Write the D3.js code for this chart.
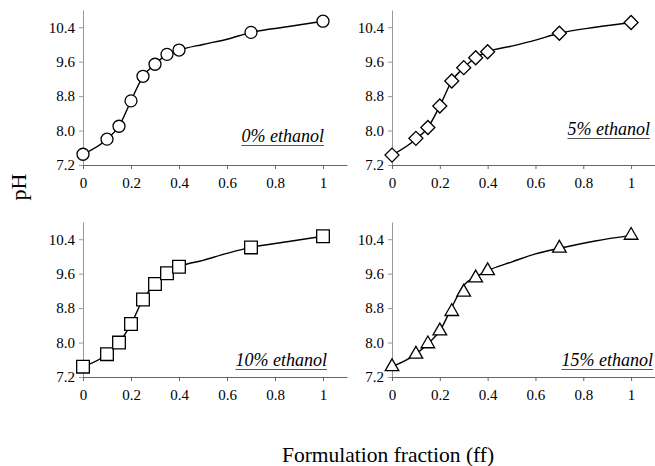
<!DOCTYPE html>
<html>
<head>
<meta charset="utf-8">
<script src="https://cdn.jsdelivr.net/npm/d3@7"></script>
<style>
  body { margin: 0; background: #fff; }
  svg { display: block; font-family: 'Liberation Serif', 'Times New Roman', serif; }
  svg text, .tick text { font-family: 'Liberation Serif', 'Times New Roman', serif; }
  .tick text { font-size: 15px; fill: #000; }
</style>
</head>
<body>
<svg width="655" height="466"></svg>
<script>
// measured points (formulation fraction vs pH)
const FF = [0, 0.1, 0.15, 0.2, 0.25, 0.3, 0.35, 0.4, 0.7, 1]
const PH_0 = [7.45, 7.80, 8.10, 8.69, 9.26, 9.54, 9.77, 9.87, 10.28, 10.54]
const PH_5 = [7.43, 7.82, 8.07, 8.57, 9.15, 9.46, 9.69, 9.83, 10.26, 10.51]
const PH_10 = [7.44, 7.73, 8.00, 8.43, 9.00, 9.36, 9.61, 9.76, 10.21, 10.47]
const PH_15 = [7.44, 7.73, 7.97, 8.27, 8.72, 9.17, 9.50, 9.67, 10.19, 10.49]

// fitted curves
const FIT_FF = [0, 0.1, 0.15, 0.2, 0.25, 0.3, 0.35, 0.4, 0.5, 0.6, 0.7, 0.85, 1]
const FIT_0 = [7.45, 7.80, 8.10, 8.69, 9.26, 9.54, 9.77, 9.87, 10.00, 10.12, 10.28, 10.41, 10.54]
const FIT_5 = [7.43, 7.80, 8.07, 8.57, 9.15, 9.46, 9.69, 9.83, 9.96, 10.10, 10.26, 10.40, 10.51]
const FIT_10 = [7.44, 7.73, 8.00, 8.43, 9.00, 9.36, 9.61, 9.76, 9.91, 10.07, 10.21, 10.34, 10.47]
const FIT_15 = [7.44, 7.73, 7.97, 8.27, 8.82, 9.33, 9.53, 9.67, 9.87, 10.06, 10.19, 10.36, 10.49]

const LABELS = ['0% ethanol', '5% ethanol', '10% ethanol', '15% ethanol']
const Y_TICKS = [7.2, 8.0, 8.8, 9.6, 10.4]
const X_TICKS = [0, 0.2, 0.4, 0.6, 0.8, 1]
const X_DOMAIN = [0, 1.1]
const Y_DOMAIN = [7.2, 10.8]

const panels = [
  { pts: PH_0, fit: FIT_0, shape: 'circle', xr: [83, 347], yr: [165, 10], labelX: 324, labelY: 142 },
  { pts: PH_5, fit: FIT_5, shape: 'diamond', xr: [392, 655], yr: [165, 10], labelX: 650, labelY: 135 },
  { pts: PH_10, fit: FIT_10, shape: 'square', xr: [83, 347], yr: [377, 222], labelX: 327, labelY: 366 },
  { pts: PH_15, fit: FIT_15, shape: 'triangle', xr: [392, 655], yr: [377, 222], labelX: 653, labelY: 366 }
]

const svg = d3.select('svg')

const symbolFor = shape => {
  if (shape === 'circle') return d3.symbol(d3.symbolCircle, 113)()
  if (shape === 'diamond') return d3.symbol(d3.symbolSquare, 98)()
  if (shape === 'square') return d3.symbol(d3.symbolSquare, 160)()
  return d3.symbol(d3.symbolTriangle, 80)()
}

panels.forEach((p, i) => {
  const x = d3.scaleLinear().domain(X_DOMAIN).range(p.xr)
  const y = d3.scaleLinear().domain(Y_DOMAIN).range(p.yr)
  const g = svg.append('g')

  const yAxis = g.append('g')
    .attr('transform', `translate(${p.xr[0]},0)`)
    .call(d3.axisLeft(y).tickValues(Y_TICKS).tickSize(4).tickSizeOuter(0).tickPadding(4)
      .tickFormat(d3.format('.1f')))
  yAxis.selectAll('path, line').attr('stroke', '#999')

  const xAxis = g.append('g')
    .attr('transform', `translate(0,${p.yr[0]})`)
    .call(d3.axisBottom(x).tickValues(X_TICKS).tickSize(4).tickSizeOuter(0).tickPadding(8)
      .tickFormat(d3.format('')))
  xAxis.selectAll('path, line').attr('stroke', '#666')

  const line = d3.line()
    .x(d => x(d[0]))
    .y(d => y(d[1]))
    .curve(d3.curveMonotoneX)

  g.append('path')
    .datum(FIT_FF.map((f, k) => [f, p.fit[k]]))
    .attr('d', line)
    .attr('fill', 'none')
    .attr('stroke', '#000')
    .attr('stroke-width', 1.4)

  g.selectAll('.mark')
    .data(FF.map((f, k) => [f, p.pts[k]]))
    .enter().append('path')
    .attr('class', 'mark')
    .attr('d', symbolFor(p.shape))
    .attr('transform', d => `translate(${x(d[0])},${y(d[1])})` + (p.shape === 'diamond' ? ' rotate(45)' : ''))
    .attr('fill', '#fff')
    .attr('stroke', '#000')
    .attr('stroke-width', 1.3)

  const label = g.append('text')
    .attr('x', p.labelX)
    .attr('y', p.labelY)
    .attr('text-anchor', 'end')
    .attr('font-size', 18)
    .attr('font-style', 'italic')
    .text(LABELS[i])
  const w = label.node().getComputedTextLength()
  g.append('line')
    .attr('x1', p.labelX - w)
    .attr('x2', p.labelX)
    .attr('y1', p.labelY + 3.5)
    .attr('y2', p.labelY + 3.5)
    .attr('stroke', '#555')
    .attr('stroke-width', 1)
})

svg.append('text')
  .attr('transform', 'translate(26,187) rotate(-90)')
  .attr('text-anchor', 'middle')
  .attr('font-size', 22)
  .text('pH')

svg.append('text')
  .attr('x', 282)
  .attr('y', 462)
  .attr('font-size', 21.5)
  .text('Formulation fraction (ff)')
</script>
</body>
</html>
